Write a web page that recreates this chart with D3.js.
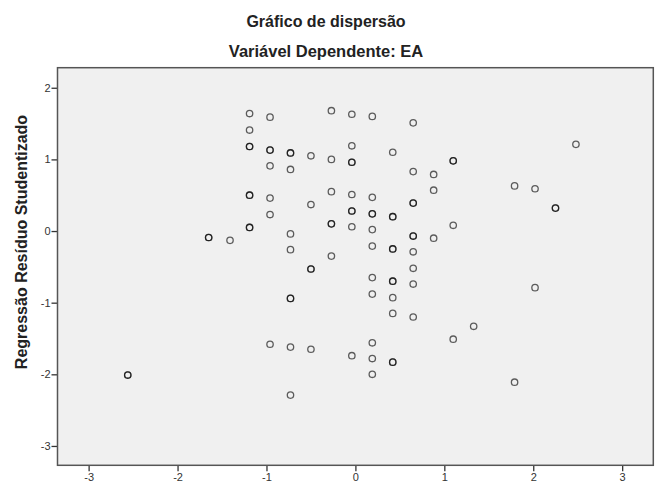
<!DOCTYPE html>
<html>
<head>
<meta charset="utf-8">
<script src="https://cdn.jsdelivr.net/npm/d3@7"></script>
<style>
  body { margin: 0; background: #fff; }
  text { font-family: "Liberation Sans", Arial, sans-serif; }
</style>
</head>
<body>
<svg id="chart" width="660" height="487"></svg>
<script>
const width = 660; //px
const height = 487; //px

const title = "Gráfico de dispersão";
const subtitle = "Variável Dependente: EA";
const yLabel = "Regressão Resíduo Studentizado";

const xTicks = [-3, -2, -1, 0, 1, 2, 3];
const yTicks = [-3, -2, -1, 0, 1, 2];

// standardized predicted value (x) / studentized residual (y)
// repeated pairs = overlapping cases (they show darker)
const xVals = [
  -2.56, -2.56,
  -1.65, -1.65,
  -1.41,
  -1.19, -1.19, -1.19, -1.19, -1.19, -1.19, -1.19, -1.19,
  -0.96, -0.96, -0.96, -0.96, -0.96, -0.96, -0.96,
  -0.73, -0.73, -0.73, -0.73, -0.73, -0.73, -0.73, -0.73, -0.73,
  -0.50, -0.50, -0.50, -0.50, -0.50,
  -0.27, -0.27, -0.27, -0.27, -0.27, -0.27,
  -0.04, -0.04, -0.04, -0.04, -0.04, -0.04, -0.04, -0.04, -0.04,
  0.19, 0.19, 0.19, 0.19, 0.19, 0.19, 0.19, 0.19, 0.19, 0.19, 0.19,
  0.42, 0.42, 0.42, 0.42, 0.42, 0.42, 0.42, 0.42, 0.42, 0.42, 0.42,
  0.65, 0.65, 0.65, 0.65, 0.65, 0.65, 0.65, 0.65, 0.65, 0.65,
  0.88, 0.88, 0.88,
  1.10, 1.10, 1.10, 1.10,
  1.33,
  1.79, 1.79,
  2.02, 2.02,
  2.25, 2.25,
  2.48
];
const yVals = [
  -2.01, -2.01,
  -0.09, -0.09,
  -0.13,
  1.64, 1.41, 1.18, 1.18, 0.50, 0.50, 0.05, 0.05,
  1.59, 1.13, 1.13, 0.91, 0.46, 0.23, -1.58,
  1.09, 1.09, 0.86, -0.04, -0.26, -0.94, -0.94, -1.62, -2.29,
  1.05, 0.37, -0.53, -0.53, -1.65,
  1.68, 1.00, 0.55, 0.10, 0.10, -0.35,
  1.63, 1.19, 0.96, 0.96, 0.51, 0.28, 0.28, 0.06, -1.74,
  1.60, 0.47, 0.24, 0.24, 0.02, -0.21, -0.65, -0.88, -1.56, -1.78, -2.00,
  1.10, 0.20, 0.20, -0.25, -0.25, -0.70, -0.70, -0.93, -1.15, -1.83, -1.83,
  1.51, 0.83, 0.39, 0.39, -0.07, -0.07, -0.29, -0.52, -0.74, -1.20,
  0.79, 0.57, -0.10,
  0.98, 0.98, 0.08, -1.51,
  -1.33,
  0.63, -2.11,
  0.59, -0.79,
  0.32, 0.32,
  1.21
];

const plot = { left: 57.5, right: 653.3, top: 67.7, bottom: 465.3 };

const svg = d3.select("#chart");

const x = d3.scaleLinear().domain([-3.35, 3.35]).range([plot.left, plot.right]);
const y = d3.scaleLinear().domain([2.28, -3.27]).range([plot.top, plot.bottom]);

// gray plot area
svg.append("rect")
  .attr("x", plot.left)
  .attr("y", plot.top)
  .attr("width", plot.right - plot.left)
  .attr("height", plot.bottom - plot.top)
  .attr("fill", "#f0f0f0");

// titles
svg.append("text")
  .attr("x", 326).attr("y", 27)
  .attr("text-anchor", "middle")
  .attr("font-size", 16).attr("font-weight", "bold")
  .attr("fill", "#222")
  .text(title);

svg.append("text")
  .attr("x", 326).attr("y", 57)
  .attr("text-anchor", "middle")
  .attr("font-size", 16.5).attr("font-weight", "bold")
  .attr("fill", "#222")
  .text(subtitle);

svg.append("text")
  .attr("transform", "translate(27,242) rotate(-90)")
  .attr("text-anchor", "middle")
  .attr("font-size", 16).attr("font-weight", "bold")
  .attr("fill", "#222")
  .text(yLabel);

// axes
const xAxis = svg.append("g")
  .attr("transform", "translate(0," + plot.bottom + ")")
  .call(d3.axisBottom(x).tickValues(xTicks).tickSize(6).tickPadding(2).tickFormat(d3.format("d")));

const yAxis = svg.append("g")
  .attr("transform", "translate(" + plot.left + ",0)")
  .call(d3.axisLeft(y).tickValues(yTicks).tickSize(6).tickPadding(1).tickFormat(d3.format("d")));

[xAxis, yAxis].forEach(function (g) {
  g.select(".domain").remove();
  g.selectAll(".tick line").attr("stroke", "#333").attr("stroke-width", 1.3);
  g.selectAll(".tick text")
    .attr("font-family", "Liberation Sans, Arial, sans-serif")
    .attr("font-size", 11)
    .attr("fill", "#333")
    .text(function (d) { return d < 0 ? "-" + Math.abs(d) : d; });
});

// frame
svg.append("rect")
  .attr("x", plot.left)
  .attr("y", plot.top)
  .attr("width", plot.right - plot.left)
  .attr("height", plot.bottom - plot.top)
  .attr("fill", "none")
  .attr("stroke", "#555")
  .attr("stroke-width", 1.5);

// points
svg.append("g")
  .selectAll("circle")
  .data(d3.range(xVals.length))
  .join("circle")
  .attr("cx", function (i) { return x(xVals[i]); })
  .attr("cy", function (i) { return y(yVals[i]); })
  .attr("r", 3.2)
  .attr("fill", "none")
  .attr("stroke", "#000")
  .attr("stroke-opacity", 0.62)
  .attr("stroke-width", 1.3);
</script>
</body>
</html>
